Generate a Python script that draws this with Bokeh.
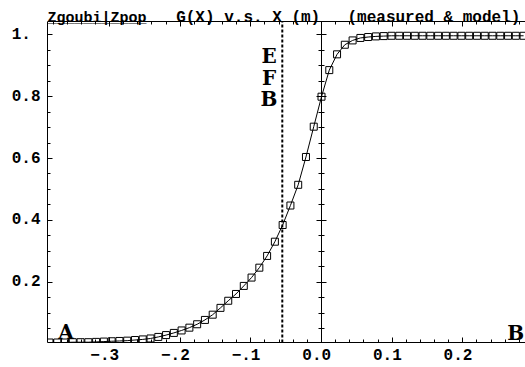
from bokeh.plotting import figure
from bokeh.models import LinearAxis, FixedTicker, Range1d, Label
from bokeh.embed import file_html
from bokeh.resources import INLINE

# ---- data ----
x_pos = [-0.385, -0.374, -0.363, -0.352, -0.341, -0.330, -0.319, -0.308, -0.297, -0.286,
         -0.275, -0.264, -0.253, -0.242, -0.231, -0.220, -0.209, -0.198, -0.187, -0.176,
         -0.165, -0.154, -0.143, -0.132, -0.121, -0.110, -0.099, -0.088, -0.077, -0.066,
         -0.055, -0.044, -0.033, -0.022, -0.011, 0.000, 0.011, 0.022, 0.033, 0.044,
         0.055, 0.066, 0.077, 0.088, 0.099, 0.110, 0.121, 0.132, 0.143, 0.154,
         0.165, 0.176, 0.187, 0.198, 0.209, 0.220, 0.231, 0.242, 0.253, 0.264,
         0.275, 0.286]
g_vals = [0.005, 0.005, 0.005, 0.006, 0.006, 0.006, 0.007, 0.008, 0.009, 0.010,
          0.011, 0.013, 0.015, 0.018, 0.023, 0.029, 0.036, 0.044, 0.053, 0.064,
          0.078, 0.095, 0.117, 0.140, 0.162, 0.188, 0.215, 0.247, 0.285, 0.331,
          0.385, 0.448, 0.515, 0.605, 0.703, 0.800, 0.886, 0.937, 0.968, 0.982,
          0.990, 0.993, 0.995, 0.996, 0.997, 0.997, 0.997, 0.997, 0.997, 0.997,
          0.997, 0.997, 0.997, 0.997, 0.997, 0.997, 0.997, 0.997, 0.997, 0.997,
          0.997, 0.997]
x_ticks = [-0.3, -0.2, -0.1, 0.0, 0.1, 0.2]
x_tick_labels = [" \u2212.3", " \u2212.2", " \u2212.1", " 0.0", " 0.1", " 0.2"]
y_ticks = [0.2, 0.4, 0.6, 0.8, 1.0]
y_tick_labels = ["0.2", "0.4", "0.6", "0.8", "1. "]
efb_x = -0.0555
title_left = "Zgoubi|Zpop"
title_mid = "G(X) v.s. X (m)"
title_right = "(measured & model)"

FONT = "Liberation Mono, Courier New, DejaVu Sans Mono, monospace"
BIG_FONT = "DejaVu Serif, serif"
x_lo, x_hi = -0.3878, 0.2887
y_lo, y_top = 0.005, 1.0436   # plotted box (top border at y_top)
y_hi = 1.1111                 # room above the box for the heading

x_minor = [round(-0.38 + 0.02 * i, 2) for i in range(34)]
y_minor = [round(0.05 * i, 2) for i in range(1, 21)]

p = figure(width=525, height=367, output_backend="svg", toolbar_location=None,
           x_range=Range1d(x_lo, x_hi), y_range=Range1d(y_lo, y_hi),
           min_border_left=47, min_border_right=0, min_border_top=0, min_border_bottom=23,
           x_axis_location=None, y_axis_location=None)
p.grid.visible = False
p.outline_line_color = None
p.background_fill_color = "white"
p.border_fill_color = "white"


def style(ax, labels=True):
    ax.axis_line_color = "black"
    ax.axis_line_width = 1
    ax.major_tick_line_color = "black"
    ax.minor_tick_line_color = "black"
    ax.major_tick_in = 5
    ax.major_tick_out = 0
    ax.minor_tick_in = 3
    ax.minor_tick_out = 0
    ax.major_label_text_font = FONT
    ax.major_label_text_font_style = "bold"
    if labels:
        ax.major_label_text_color = "black"
        ax.major_label_text_font_size = "16px"
    else:
        ax.major_label_text_color = None
        ax.major_label_text_alpha = 0
        ax.major_label_text_font_size = "1px"
        ax.major_label_standoff = 0


xb = LinearAxis(ticker=FixedTicker(ticks=x_ticks, minor_ticks=x_minor),
                major_label_overrides=dict(zip(x_ticks, x_tick_labels)))
style(xb)
xb.major_label_standoff = 4
p.add_layout(xb, "below")

xt = LinearAxis(ticker=FixedTicker(ticks=x_ticks, minor_ticks=x_minor), fixed_location=y_top)
style(xt, labels=False)
p.add_layout(xt, "above")

yl = LinearAxis(ticker=FixedTicker(ticks=y_ticks, minor_ticks=y_minor),
                major_label_overrides=dict(zip(y_ticks, y_tick_labels)),
                bounds=(y_lo, y_top))
style(yl)
yl.major_label_standoff = 7
p.add_layout(yl, "left")

yc = LinearAxis(ticker=FixedTicker(ticks=y_ticks, minor_ticks=y_minor), fixed_location=0.0,
                bounds=(y_lo, y_top))
style(yc, labels=False)
yc.major_tick_out = 5
yc.minor_tick_out = 3
p.add_layout(yc, "left")

# effective field boundary (dashed vertical line inside the box)
p.segment(x0=[efb_x], y0=[y_lo], x1=[efb_x], y1=[y_top], line_color="black",
          line_width=2, line_dash="3 2")

p.line(x_pos, g_vals, line_color="black", line_width=1)
p.scatter(x_pos, g_vals, marker="square", size=7, fill_color=None,
          line_color="black", line_width=1)


def lab(x, y, text, size, align="left", font=FONT):
    p.add_layout(Label(x=x, y=y, text=text, text_font=font, text_font_style="bold",
                       text_font_size=size, text_color="black", text_align=align,
                       text_baseline="alphabetic"))


lab(x_lo, 1.053, title_left, "15px")
lab(x_lo, 1.053, "_" * len(title_left), "15px")
lab(-0.2057, 1.053, title_mid, "16px")
lab(0.0368, 1.053, title_right, "16px")

lab(-0.3616, 0.0404, "A", "20px", "center", BIG_FONT)
lab(-0.0743, 0.931, "E", "20px", "center", BIG_FONT)
lab(-0.0743, 0.862, "F", "20px", "center", BIG_FONT)
lab(-0.0743, 0.793, "B", "20px", "center", BIG_FONT)
lab(0.2750, 0.037, "B", "20px", "center", BIG_FONT)

open("out.html", "w").write(file_html(p, INLINE))
